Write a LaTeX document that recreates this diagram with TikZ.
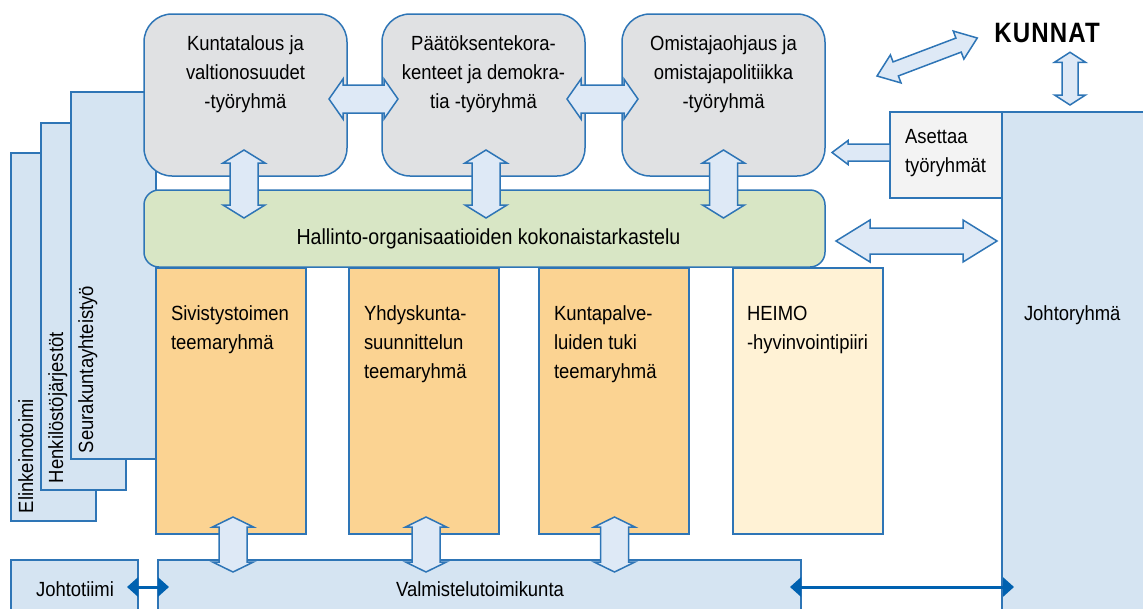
\documentclass[tikz,border=0pt]{standalone}
\usepackage{fontspec}
\setmainfont{Liberation Sans}[FakeStretch=0.9]
\newfontfamily\kfont{Liberation Sans}[FakeStretch=0.86, LetterSpace=4]
\usetikzlibrary{calc,arrows.meta}
\definecolor{bord}{RGB}{46,117,182}
\definecolor{greyf}{RGB}{224,225,227}
\definecolor{greenf}{RGB}{216,230,197}
\definecolor{orangef}{RGB}{251,211,146}
\definecolor{heimof}{RGB}{255,242,213}
\definecolor{bluef}{RGB}{213,228,242}
\definecolor{arrf}{RGB}{222,233,246}
\definecolor{asf}{RGB}{243,243,243}
\definecolor{dkblue}{RGB}{0,97,176}
\tikzset{
  every node/.style={inner sep=0pt, outer sep=0pt},
  box/.style={draw=bord, line width=1.5pt, anchor=north west},
  topbox/.style={box, fill=greyf, rounded corners=28pt, minimum width=203pt, minimum height=162pt},
  greenbox/.style={box, fill=greenf, rounded corners=15pt},
  teambox/.style={box, fill=orangef, minimum width=150pt, minimum height=266pt},
  heimobox/.style={box, fill=heimof, minimum width=150pt, minimum height=266pt},
  panel/.style={box, fill=bluef},
  txt/.style={font=\fontsize{20.5}{29}\selectfont, text=black},
  bigtxt/.style={font=\fontsize{21.8}{29}\selectfont, text=black},
  blk/.style={draw=bord, line width=1.5pt, fill=arrf, line join=miter},
  conn/.style={draw=dkblue, line width=3pt, {Triangle[length=11pt,width=19pt]}-{Triangle[length=11pt,width=19pt]}},
}
% #1 start, #2 end, #3 shaft half width, #4 head half width, #5 head length
\newcommand\dblarrow[5]{%
  \path (#1) coordinate (da1) (#2) coordinate (da2);
  \path ($(da1)!#5pt!(da2)$) coordinate (dh1) ($(da2)!#5pt!(da1)$) coordinate (dh2);
  \draw[blk] (da1) -- ($(dh1)!#4pt!90:(da2)$) -- ($(dh1)!#3pt!90:(da2)$)
    -- ($(dh2)!#3pt!-90:(da1)$) -- ($(dh2)!#4pt!-90:(da1)$) -- (da2)
    -- ($(dh2)!#4pt!90:(da1)$) -- ($(dh2)!#3pt!90:(da1)$)
    -- ($(dh1)!#3pt!-90:(da2)$) -- ($(dh1)!#4pt!-90:(da2)$) -- cycle;
}
% #1 tail, #2 tip, #3 shaft half width, #4 head half width, #5 head length
\newcommand\sglarrow[5]{%
  \path (#1) coordinate (sa1) (#2) coordinate (sa2);
  \path ($(sa2)!#5pt!(sa1)$) coordinate (sh);
  \draw[blk] ($(sa1)!#3pt!90:(sa2)$) -- ($(sh)!#3pt!-90:(sa1)$) -- ($(sh)!#4pt!-90:(sa1)$)
    -- (sa2) -- ($(sh)!#4pt!90:(sa1)$) -- ($(sh)!#3pt!90:(sa1)$)
    -- ($(sa1)!#3pt!-90:(sa2)$) -- cycle;
}
\begin{document}
\begin{tikzpicture}[x=1pt,y=-1pt]
\useasboundingbox (0,0) rectangle (1143,608);
\clip (0,0) rectangle (1143,608);
% side panels
\node[panel, minimum width=85pt, minimum height=368pt] (p1) at (11,153) {};
\node[txt, rotate=90, anchor=base west] (p1t) at ($(p1.south west)+(22,-8)$) {Elinkeinotoimi};
\node[panel, minimum width=85pt, minimum height=367pt] (p2) at (41,123) {};
\node[txt, rotate=90, anchor=base west] (p2t) at ($(p2.south west)+(22,-7)$) {Henkilöstöjärjestöt};
\node[panel, minimum width=85pt, minimum height=367pt] (p3) at (71,92) {};
\node[txt, rotate=90, anchor=base west] (p3t) at ($(p3.south west)+(22,-6)$) {Seurakuntayhteistyö};
% top working groups
\node[topbox] (k1) at (144,14) {};
\node[topbox] (k2) at (382,14) {};
\node[topbox] (k3) at (622,14) {};
\node[txt, anchor=north, align=center] (k1t) at ($(k1.north)+(0,15.7)$) {\strut Kuntatalous ja\\valtionosuudet\\-työryhmä};
\node[txt, anchor=north, align=center] (k2t) at ($(k2.north)+(0,15.7)$) {\strut Päätöksentekora-\\kenteet ja demokra-\\tia -työryhmä};
\node[txt, anchor=north, align=center] (k3t) at ($(k3.north)+(0,15.7)$) {\strut Omistajaohjaus ja\\omistajapolitiikka\\-työryhmä};
% green
\node[greenbox, minimum width=681pt, minimum height=77pt] (g) at (144,190) {};
\node[bigtxt, anchor=base] (gt) at (488.5,244) {Hallinto-organisaatioiden kokonaistarkastelu};
% theme groups
\node[teambox] (o1) at (156,268) {};
\node[teambox] (o2) at (349,268) {};
\node[teambox] (o3) at (539,268) {};
\node[heimobox] (o4) at (733,268) {};
\node[txt, anchor=north west, align=left] (o1t) at ($(o1.north west)+(15,31.7)$) {\strut Sivistystoimen\\teemaryhmä};
\node[txt, anchor=north west, align=left] (o2t) at ($(o2.north west)+(15,31.7)$) {\strut Yhdyskunta-\\suunnittelun\\teemaryhmä};
\node[txt, anchor=north west, align=left] (o3t) at ($(o3.north west)+(15,31.7)$) {\strut Kuntapalve-\\luiden tuki\\teemaryhmä};
\node[txt, anchor=north west, align=left] (o4t) at ($(o4.north west)+(14,31.7)$) {\strut HEIMO\\-hyvinvointipiiri};
% right side
\node[box, fill=bluef, minimum width=160pt, minimum height=510pt] (jr) at (1002,112) {};
\node[txt, anchor=north west] (jrt) at ($(jr.north west)+(22,187.7)$) {\strut Johtoryhmä};
\node[box, fill=asf, minimum width=112pt, minimum height=86pt] (as) at (890,112) {};
\node[txt, anchor=north west, align=left] (ast) at ($(as.north west)+(15,10.7)$) {\strut Asettaa\\työryhmät};
\node[font=\kfont\bfseries\fontsize{28}{30}\selectfont, anchor=base] (kn) at (1047,42) {KUNNAT};
% bottom
\node[box, fill=bluef, minimum width=127pt, minimum height=60pt] (jt) at (11,560) {};
\node[box, fill=bluef, minimum width=643pt, minimum height=60pt] (vt) at (158,560) {};
\node[txt, anchor=base] (jtt) at (75,596) {Johtotiimi};
\node[txt, anchor=base] (vtt) at (480,596) {Valmistelutoimikunta};
% block arrows
\dblarrow{$(k1.east)+(-18,4)$}{$(k2.west)+(16,4)$}{14}{20}{14}
\dblarrow{$(k2.east)+(-18,4)$}{$(k3.west)+(16,4)$}{14}{20}{14}
\dblarrow{$(k1.south)+(-1.5,-26)$}{$(k1.south)+(-1.5,42)$}{14}{21}{13}
\dblarrow{$(k2.south)+(2.5,-26)$}{$(k2.south)+(2.5,42)$}{14}{21}{13}
\dblarrow{$(k3.south)+(0,-26)$}{$(k3.south)+(0,42)$}{14}{21}{13}
\dblarrow{$(o1.south)+(2,-17)$}{$(o1.south)+(2,38)$}{14}{20.5}{10}
\dblarrow{$(o2.south)+(2,-17)$}{$(o2.south)+(2,38)$}{14}{20.5}{10}
\dblarrow{$(o3.south)+(0.5,-17)$}{$(o3.south)+(0.5,38)$}{14}{20.5}{10}
\dblarrow{$(g.east)+(11,12.5)$}{$(jr.west|-g.east)+(-5,12.5)$}{13}{21}{34}
\sglarrow{$(as.west)+(0,-2.5)$}{$(k3.east|-as.west)+(7,-2.5)$}{8.5}{12}{16}
\coordinate (dg1) at (877,76);
\coordinate (dg2) at ($(kn.base west)+(-17,-4)$);
\dblarrow{dg1}{dg2}{7.5}{15}{20}
\dblarrow{$(kn.south-|jr.west)+(68,10)$}{$(jr.north west)+(68,-7)$}{8}{15.5}{10}
% dark connectors
\draw[conn] ($(jt.north east)+(-11,27)$) -- ($(vt.north west)+(11,27)$);
\draw[conn] ($(vt.north east)+(-11,27)$) -- ($(jr.west|-vt.north)+(12,27)$);
\end{tikzpicture}
\end{document}
